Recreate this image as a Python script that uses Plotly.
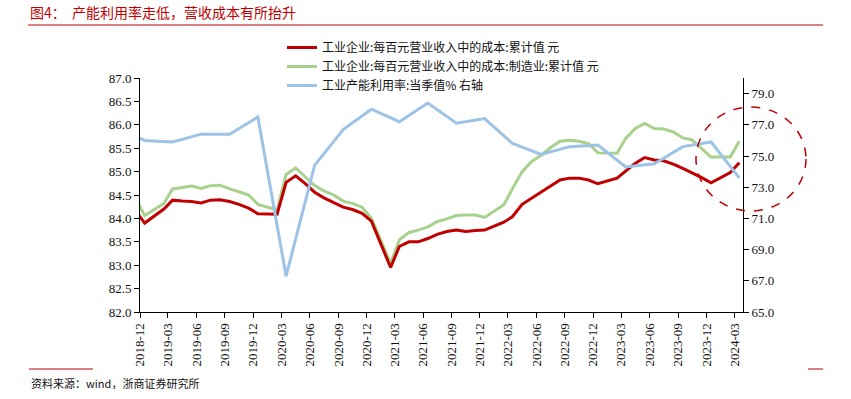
import pandas as pd
import plotly.graph_objects as go

# ---------------- data ----------------
cost_months = [
    "2018-11", "2018-12",
    "2019-02", "2019-03", "2019-04", "2019-05", "2019-06", "2019-07", "2019-08", "2019-09", "2019-10", "2019-11", "2019-12",
    "2020-02", "2020-03", "2020-04", "2020-05", "2020-06", "2020-07", "2020-08", "2020-09", "2020-10", "2020-11", "2020-12",
    "2021-02", "2021-03", "2021-04", "2021-05", "2021-06", "2021-07", "2021-08", "2021-09", "2021-10", "2021-11", "2021-12",
    "2022-02", "2022-03", "2022-04", "2022-05", "2022-06", "2022-07", "2022-08", "2022-09", "2022-10", "2022-11", "2022-12",
    "2023-02", "2023-03", "2023-04", "2023-05", "2023-06", "2023-07", "2023-08", "2023-09", "2023-10", "2023-11", "2023-12",
    "2024-02", "2024-03",
]
cost_all = [
    84.17, 83.90,
    84.20, 84.39, 84.37, 84.36, 84.33, 84.39, 84.40, 84.36, 84.30, 84.22, 84.10,
    84.09, 84.77, 84.91, 84.75, 84.56, 84.44, 84.34, 84.24, 84.19, 84.11, 83.94,
    82.95, 83.40, 83.50, 83.50, 83.57, 83.66, 83.72, 83.75, 83.72, 83.74, 83.75,
    83.92, 84.04, 84.30, 84.43, 84.55, 84.68, 84.82, 84.86, 84.86, 84.82, 84.74,
    84.86, 85.01, 85.18, 85.30, 85.25, 85.23, 85.16, 85.07, 84.98, 84.87, 84.76,
    84.98, 85.19,
]
cost_mfg = [
    84.45, 84.06,
    84.32, 84.63, 84.66, 84.69, 84.64, 84.70, 84.71, 84.63, 84.57, 84.50, 84.30,
    84.18, 84.94, 85.08, 84.89, 84.70, 84.59, 84.50, 84.37, 84.32, 84.24, 84.00,
    83.04, 83.54, 83.70, 83.75, 83.82, 83.93, 83.99, 84.06, 84.07, 84.07, 84.02,
    84.29, 84.64, 85.00, 85.21, 85.35, 85.51, 85.65, 85.67, 85.65, 85.60, 85.40,
    85.39, 85.71, 85.92, 86.03, 85.92, 85.91, 85.85, 85.72, 85.68, 85.50, 85.31,
    85.31, 85.65,
]
util_months = [
    "2018-09", "2018-12",
    "2019-03", "2019-06", "2019-09", "2019-12",
    "2020-03", "2020-06", "2020-09", "2020-12",
    "2021-03", "2021-06", "2021-09", "2021-12",
    "2022-03", "2022-06", "2022-09", "2022-12",
    "2023-03", "2023-06", "2023-09", "2023-12",
    "2024-03",
]
util_rate = [
    76.8, 76.0,
    75.9, 76.4, 76.4, 77.5,
    67.3, 74.4, 76.7, 78.0,
    77.2, 78.4, 77.1, 77.4,
    75.8, 75.1, 75.6, 75.7,
    74.3, 74.5, 75.6, 75.9,
    73.6,
]
tick_months = [
    "2018-12", "2019-03", "2019-06", "2019-09", "2019-12", "2020-03", "2020-06", "2020-09",
    "2020-12", "2021-03", "2021-06", "2021-09", "2021-12", "2022-03", "2022-06", "2022-09",
    "2022-12", "2023-03", "2023-06", "2023-09", "2023-12", "2024-03",
]

names = [
    "工业企业:每百元营业收入中的成本:累计值 元",
    "工业企业:每百元营业收入中的成本:制造业:累计值 元",
    "工业产能利用率:当季值% 右轴",
]

# points sit in the middle of each month slot
def mid(months):
    return pd.to_datetime(months) + pd.Timedelta(days=15)

RED = "#C00000"
GREEN = "#A9D18E"
BLUE = "#9DC3E6"

# plot area in pixels
W, H = 851, 399
L, R, T, B = 140, 743, 78, 312
def px(x):
    return (x - L) / (R - L)
def py(y):
    return (B - y) / (B - T)

LAT = "Liberation Serif, Times New Roman, Noto Sans CJK SC, serif"
CJK = "Noto Sans CJK SC, sans-serif"

fig = go.Figure()
fig.add_trace(go.Scatter(x=mid(cost_months), y=cost_mfg, name=names[1], mode="lines",
                         line=dict(color=GREEN, width=3), legendrank=2))
fig.add_trace(go.Scatter(x=mid(cost_months), y=cost_all, name=names[0], mode="lines",
                         line=dict(color=RED, width=3), legendrank=1))
fig.add_trace(go.Scatter(x=mid(util_months), y=util_rate, name=names[2], mode="lines",
                         line=dict(color=BLUE, width=3), yaxis="y2", legendrank=3))

axis_common = dict(
    ticks="outside", ticklen=5, tickcolor="#000",
    showline=True, linecolor="#000", linewidth=1, showgrid=False, zeroline=False,
    tickfont=dict(family=LAT, size=13, color="#111"), automargin=False,
)

fig.update_layout(
    width=W, height=H,
    margin=dict(l=L, r=W - R, t=T, b=H - B, pad=0, autoexpand=False),
    paper_bgcolor="white", plot_bgcolor="white",
    showlegend=True,
    legend=dict(x=px(282), y=py(33), xanchor="left", yanchor="top",
                bgcolor="rgba(0,0,0,0)", font=dict(family=CJK, size=12, color="#111"),
                tracegroupgap=0, itemwidth=30),
    xaxis=dict(
        type="date",
        range=[pd.Timestamp("2018-12-01"), pd.Timestamp("2024-03-28")],
        tickvals=pd.to_datetime(tick_months), ticktext=tick_months,
        tickangle=-90, **axis_common,
    ),
    yaxis=dict(range=[82, 87], dtick=0.5, tickformat=".1f", **axis_common),
    yaxis2=dict(
        range=[65, 80], tickvals=[65, 67, 69, 71, 73, 75, 77, 79], tickformat=".1f",
        overlaying="y", side="right", **axis_common,
    ),
    title=dict(text="图4：  产能利用率走低，营收成本有所抬升", x=30 / W, xanchor="left",
               y=1 - 13 / H, yanchor="middle",
               font=dict(family=CJK, size=14, color=RED)),
    annotations=[
        dict(text="资料来源：wind，浙商证券研究所", xref="paper", yref="paper",
             x=px(29), y=py(383), xanchor="left", yanchor="middle", showarrow=False,
             font=dict(family=CJK, size=11, color="#111")),
    ],
    shapes=[
        dict(type="line", xref="paper", yref="paper", x0=px(28), x1=px(823), y0=py(25), y1=py(25),
             line=dict(color=RED, width=1)),
        dict(type="line", xref="paper", yref="paper", x0=px(29), x1=px(93), y0=py(369), y1=py(369),
             line=dict(color=RED, width=1)),
        dict(type="line", xref="paper", yref="paper", x0=px(808), x1=px(823), y0=py(369), y1=py(369),
             line=dict(color=RED, width=1)),
        dict(type="circle", xref="paper", yref="paper", x0=px(696), x1=px(806), y0=py(211), y1=py(107),
             line=dict(color=RED, width=1.5, dash="dash")),
    ],
)

# remove the browser's default 8px page margin so the figure sits at (0, 0)
fig.write_html("out.html", config={"displayModeBar": False},
               post_script="document.body.style.margin='0';")
